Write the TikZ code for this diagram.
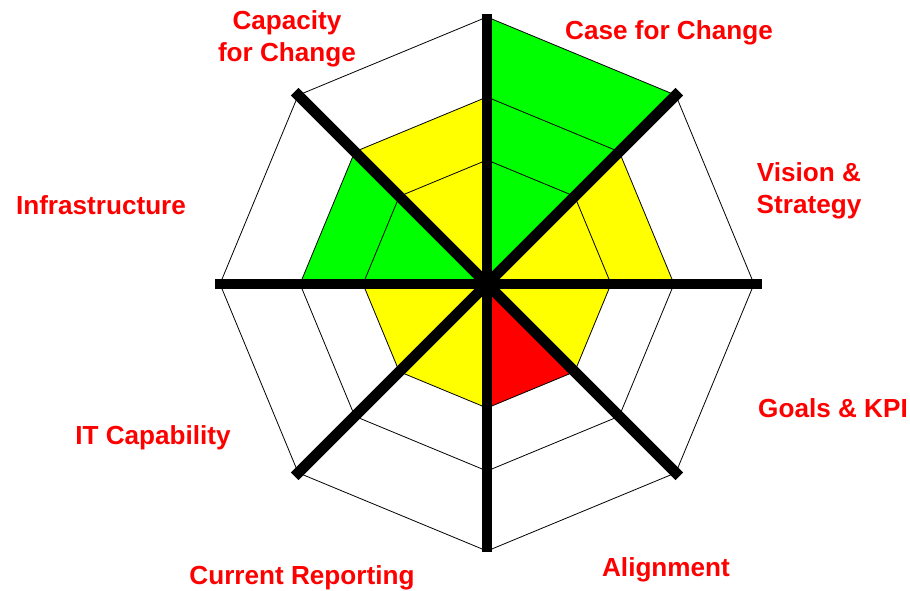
\documentclass[tikz,border=0pt]{standalone}
\usepackage{fontspec}
\setmainfont{Liberation Sans}
\begin{document}
\begin{tikzpicture}[x=0.75pt,y=0.75pt,
  lab/.style={text=labred,font=\bfseries\fontsize{19.6}{24}\selectfont,inner sep=0pt,align=center},
  ring/.style={draw=black,line width=0.6pt},
  spoke/.style={draw=black,line width=8.2pt}]
\definecolor{labred}{RGB}{255,0,0}
\definecolor{fgreen}{RGB}{0,255,0}
\definecolor{fyellow}{RGB}{255,255,0}
\definecolor{fred}{RGB}{255,0,0}
\useasboundingbox (0,0) rectangle (910,590);
\coordinate (C) at (487,306);
\begin{scope}[shift={(C)}]
  % sector fills
  \fill[fgreen]  (0,0) -- (90:267) -- (45:267) -- cycle;
  \fill[fyellow] (0,0) -- (45:187) -- (0:187) -- cycle;
  \fill[fyellow] (0,0) -- (0:124) -- (-45:124) -- cycle;
  \fill[fred]    (0,0) -- (-45:124) -- (-90:124) -- cycle;
  \fill[fyellow] (0,0) -- (-90:124) -- (-135:124) -- cycle;
  \fill[fyellow] (0,0) -- (-135:124) -- (180:124) -- cycle;
  \fill[fgreen]  (0,0) -- (180:187) -- (135:187) -- cycle;
  \fill[fyellow] (0,0) -- (135:187) -- (90:187) -- cycle;
  % rings
  \foreach \r in {124,187,267}
    \draw[ring] (0:\r) -- (45:\r) -- (90:\r) -- (135:\r) -- (180:\r) -- (225:\r) -- (270:\r) -- (315:\r) -- cycle;
  % spoke ends
  \foreach \a/\l [count=\i] in {90/270,45/272,0/275,-45/272,-90/268,-135/272,180/272,135/272}
    \coordinate (s\i) at (\a:\l);
\end{scope}
\foreach \i in {1,...,8}
  \draw[spoke] (C) -- (s\i);
% labels
\node[lab] (cap) at (287,551) {Capacity\\for Change};
\node[lab] (case) at (669,557) {Case for Change};
\node[lab] (vis) at (809,399) {Vision \&\\Strategy};
\node[lab] (inf) at (101,385) {Infrastructure};
\node[lab] (goal) at (833,182) {Goals \& KPI};
\node[lab] (itc) at (153,152) {IT Capability};
\node[lab] (cur) at (302,12) {Current Reporting};
\node[lab] (ali) at (666,20) {Alignment};
\end{tikzpicture}
\end{document}
